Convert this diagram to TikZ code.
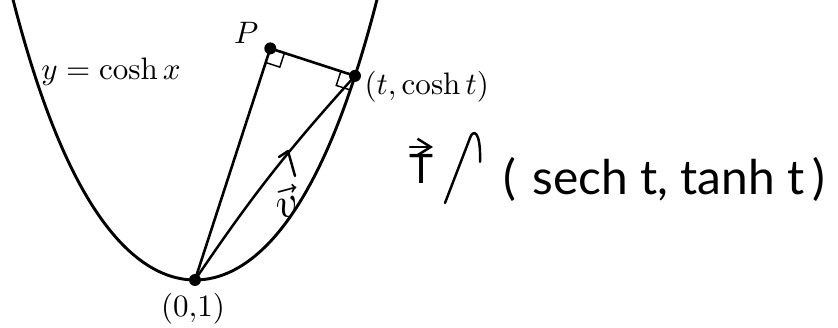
\documentclass[tikz,border=0pt]{standalone}
\usepackage{fontspec}
\newfontfamily\hand{Lato}
\usetikzlibrary{calc,arrows.meta}
\begin{document}
\begin{tikzpicture}[x=0.01212cm,y=-0.01212cm,
  curve/.style={line width=1pt},
  seg/.style={line width=0.9pt},
  ra/.style={line width=0.5pt},
  dot/.style={circle,fill=black,inner sep=0pt,minimum size=0.145cm},
  mlab/.style={scale=1.07},
  handline/.style={line width=0.85pt,line cap=round,line join=round},
  handtext/.style={font=\hand\fontsize{16.5}{19}\selectfont,inner sep=0pt}
]
\useasboundingbox (0,0) rectangle (838,328);
% curve y = cosh x
\draw[curve,domain=-1.83:1.83,samples=120,smooth] plot ({195+100*\x},{280-129.4*(cosh(\x)-1)});
% points
\coordinate (O) at (195,280);
\coordinate (Q) at (355,75.9);
\coordinate (P) at (270.3,48.4);
% segments
\draw[seg] (O) -- (P) -- (Q);
% right angle marks
\coordinate (pa) at ($(P)!0.18cm!(O)$);
\coordinate (pb) at ($(P)!0.18cm!(Q)$);
\draw[ra] (pa) -- ($(pa)+(pb)-(P)$) -- (pb);
\coordinate (qa) at ($(Q)!0.18cm!(P)$);
\coordinate (qb) at ($(Q)+(pa)-(P)$);
\draw[ra] (qa) -- ($(qa)+(qb)-(Q)$) -- (qb);
% hand-drawn vector
\draw[handline] (O) to[bend left=4] (Q);
\coordinate (c1) at (279,157);
\coordinate (c2) at (288,151);
\coordinate (c3) at (295,176);
\draw[handline] (c1) -- (c2) -- (c3);
\node[rotate=15,scale=1.5] (v) at (286,202) {$\vec{v}$};
% dots
\node[dot] (Odot) at (O) {};
\node[dot] (Qdot) at (Q) {};
\node[dot] (Pdot) at (P) {};
% labels
\node[mlab,anchor=south east,inner sep=1pt] (Plab) at (262,47) {$P$};
\node[mlab] (ylab) at (111,72) {$y = \cosh x$};
\node[mlab,anchor=west,inner sep=0pt] (Qlab) at (364,87) {$(t, \cosh t)$};
\node[mlab] (Olab) at (193,309) {$(0{,}1)$};
% handwritten part
\node[handtext,font=\hand\fontsize{14}{17}\selectfont] (T) at (421,169) {T};
\coordinate (ta) at (410,147);
\coordinate (tb) at (433,147);
\draw[handline,-{Straight Barb[length=1.6mm,width=2mm]}] (ta) -- (tb);
\coordinate (a1) at (445,203);
\coordinate (a2) at (470,138);
\coordinate (a3) at (480,162);
\draw[handline] (a1) -- (a2) .. controls (473,129) and (481,130) .. (a3);
\node[handtext,anchor=west] (tan) at (503,179) {(\,\,sech t, tanh t\,)};
\end{tikzpicture}
\end{document}
